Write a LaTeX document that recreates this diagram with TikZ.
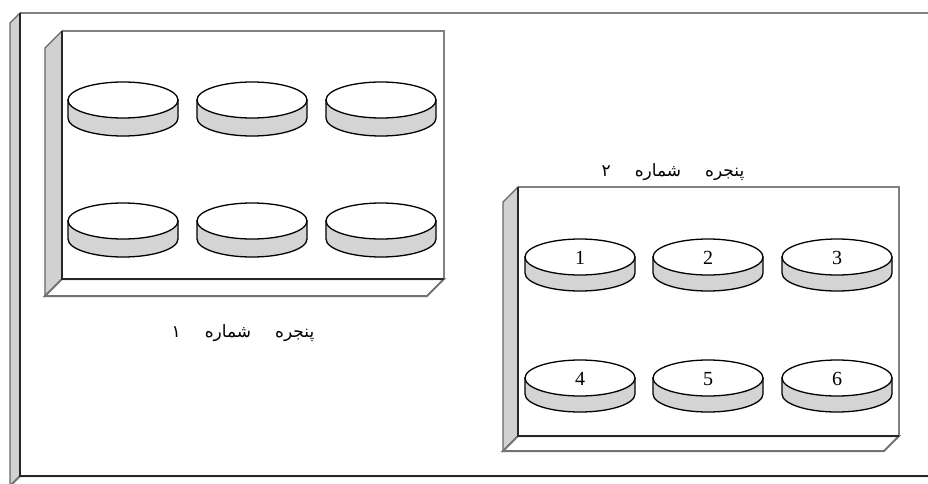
\documentclass[tikz,border=0pt]{standalone}
\usepackage{fontspec}
\setmainfont{Liberation Serif}
\newfontfamily\arabicfont[Script=Arabic]{DejaVu Sans}
\TeXXeTstate=1
\tikzset{
  x=1pt,y=1pt,
  sideface/.style={fill=black!18, draw=black!60, line width=1.2pt},
  bottomface/.style={fill=white, draw=black!55, line width=2pt},
  diskside/.style={fill=black!17, draw=black, line width=1.3pt},
  disktop/.style={fill=white, draw=black, line width=1.3pt},
  numlabel/.style={font=\fontsize{20}{20}\selectfont, inner sep=0pt},
  titlelabel/.style={font=\arabicfont\fontsize{17}{17}\selectfont, inner sep=0pt}
}
% box: left, top, right, bottom, depth
\newcommand\myshelf[5]{%
  \path[sideface] (#1-#5,-#2-#5) -- (#1,-#2) -- (#1,-#4) -- (#1-#5,-#4-#5) -- cycle;
  \path[bottomface] (#1-#5,-#4-#5) -- (#1,-#4) -- (#3,-#4) -- (#3-#5,-#4-#5) -- cycle;
  \fill[white] (#1,-#2) rectangle (#3,-#4);
  \draw[draw=black!50, line width=2.2pt] (#1,-#2) -- (#3,-#2) -- (#3,-#4);
  \draw[draw=black!85, line width=1.8pt] (#3,-#4) -- (#1,-#4) -- (#1,-#2);
}
% disk: cx, cy(top ellipse centre), height
\newcommand\mydisk[3]{%
  \path[diskside] (#1-55,-#2) -- (#1-55,-#2-#3) arc[start angle=180,end angle=360,x radius=55,y radius=18] -- (#1+55,-#2) -- cycle;
  \path[disktop] (#1,-#2) ellipse[x radius=55,y radius=18];
}
\begin{document}
\begin{tikzpicture}
\useasboundingbox (0,0) rectangle (928,-484);
\clip (0,0) rectangle (928,-484);
% outer frame
\myshelf{20}{13}{940}{476}{10}
% window 1
\myshelf{62}{31}{444}{279}{17}
\mydisk{123}{100}{18}
\mydisk{252}{100}{18}
\mydisk{381}{100}{18}
\mydisk{123}{221}{18}
\mydisk{252}{221}{18}
\mydisk{381}{221}{18}
\node[titlelabel] (t1) at (243,-333) {\beginR پنجره\hspace{24pt}شماره\hspace{24pt}۱\endR};
% window 2
\myshelf{518}{187}{899}{436}{15}
\mydisk{580}{257}{16}
\mydisk{708}{257}{16}
\mydisk{837}{257}{16}
\mydisk{580}{378}{16}
\mydisk{708}{378}{16}
\mydisk{837}{378}{16}
\node[numlabel] (n1) at (580,-258) {1};
\node[numlabel] (n2) at (708,-258) {2};
\node[numlabel] (n3) at (837,-258) {3};
\node[numlabel] (n4) at (580,-379) {4};
\node[numlabel] (n5) at (708,-379) {5};
\node[numlabel] (n6) at (837,-379) {6};
\node[titlelabel] (t2) at (673,-172) {\beginR پنجره\hspace{24pt}شماره\hspace{24pt}۲\endR};
\end{tikzpicture}
\end{document}
